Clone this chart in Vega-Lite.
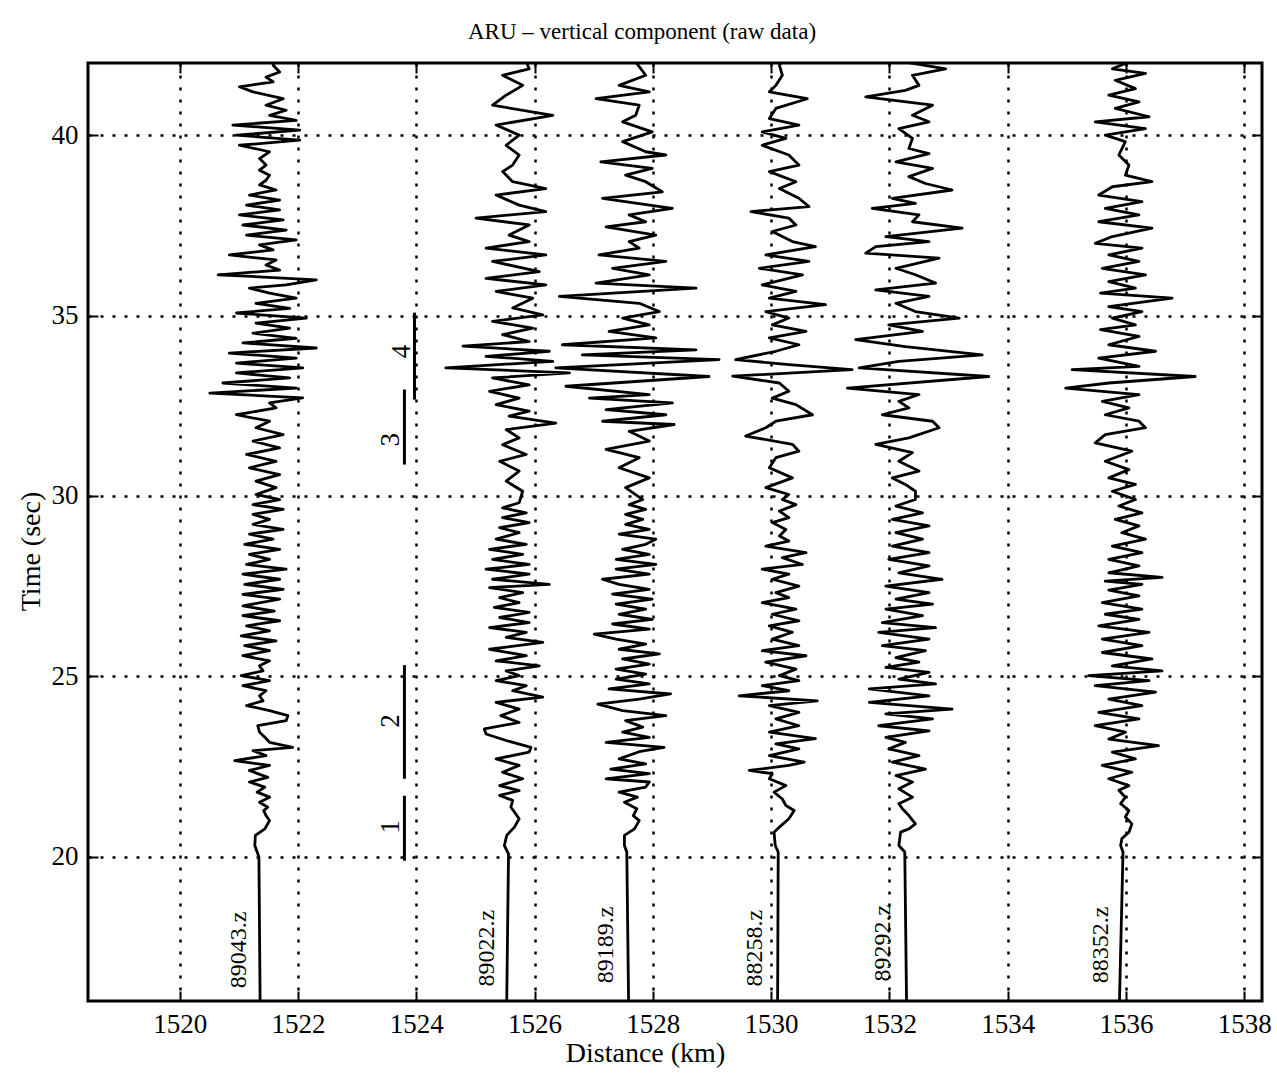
{
"$schema":"https://vega.github.io/schema/vega-lite/v6.json",
"width":1174,"height":938,
"autosize":{"type":"none"},
"padding":{"left":88,"top":63,"right":15,"bottom":77},
"background":"white",
"title":{"text":"ARU – vertical component (raw data)","font":"Liberation Serif","fontSize":23,"fontWeight":"normal","color":"black","anchor":"middle","frame":"group","dx":-33,"offset":18},
"config":{"view":{"stroke":"black","strokeWidth":3},
 "axis":{"labelFont":"Liberation Serif","labelFontSize":27,"labelColor":"black","titleFont":"Liberation Serif","titleFontSize":28,"titleFontWeight":"normal","titleColor":"black","tickColor":"black","tickWidth":2,"domain":false,"gridColor":"black","gridDash":[3,9],"gridWidth":2.5,"gridOpacity":1}},
"datasets":{
"traces":[
{"s":"89043","t":16.0,"x":1521.36},{"s":"89043","t":19.99,"x":1521.34},{"s":"89043","t":20.13,"x":1521.31},{"s":"89043","t":20.31,"x":1521.27},{"s":"89043","t":20.59,"x":1521.28},{"s":"89043","t":20.77,"x":1521.44},{"s":"89043","t":21.0,"x":1521.52},{"s":"89043","t":21.14,"x":1521.46},{"s":"89043","t":21.28,"x":1521.42},{"s":"89043","t":21.37,"x":1521.49},{"s":"89043","t":21.51,"x":1521.35},{"s":"89043","t":21.65,"x":1521.52},{"s":"89043","t":21.79,"x":1521.31},{"s":"89043","t":21.93,"x":1521.44},{"s":"89043","t":22.07,"x":1521.18},{"s":"89043","t":22.2,"x":1521.49},{"s":"89043","t":22.39,"x":1521.18},{"s":"89043","t":22.53,"x":1521.52},{"s":"89043","t":22.66,"x":1520.93},{"s":"89043","t":22.8,"x":1521.46},{"s":"89043","t":22.94,"x":1521.24},{"s":"89043","t":23.03,"x":1521.91},{"s":"89043","t":23.17,"x":1521.52},{"s":"89043","t":23.31,"x":1521.44},{"s":"89043","t":23.45,"x":1521.35},{"s":"89043","t":23.63,"x":1521.32},{"s":"89043","t":23.77,"x":1521.8},{"s":"89043","t":23.91,"x":1521.83},{"s":"89043","t":24.05,"x":1521.52},{"s":"89043","t":24.19,"x":1521.13},{"s":"89043","t":24.32,"x":1521.41},{"s":"89043","t":24.46,"x":1521.35},{"s":"89043","t":24.6,"x":1521.46},{"s":"89043","t":24.74,"x":1521.07},{"s":"89043","t":24.88,"x":1521.52},{"s":"89043","t":25.02,"x":1521.04},{"s":"89043","t":25.15,"x":1521.41},{"s":"89043","t":25.29,"x":1521.35},{"s":"89043","t":25.43,"x":1521.52},{"s":"89043","t":25.57,"x":1521.07},{"s":"89043","t":25.71,"x":1521.52},{"s":"89043","t":25.85,"x":1521.1},{"s":"89043","t":25.98,"x":1521.63},{"s":"89043","t":26.12,"x":1521.04},{"s":"89043","t":26.26,"x":1521.52},{"s":"89043","t":26.4,"x":1521.13},{"s":"89043","t":26.54,"x":1521.69},{"s":"89043","t":26.68,"x":1521.07},{"s":"89043","t":26.81,"x":1521.6},{"s":"89043","t":26.95,"x":1521.07},{"s":"89043","t":27.14,"x":1521.69},{"s":"89043","t":27.27,"x":1521.07},{"s":"89043","t":27.41,"x":1521.75},{"s":"89043","t":27.55,"x":1521.1},{"s":"89043","t":27.69,"x":1521.69},{"s":"89043","t":27.83,"x":1521.07},{"s":"89043","t":27.97,"x":1521.8},{"s":"89043","t":28.1,"x":1521.13},{"s":"89043","t":28.24,"x":1521.52},{"s":"89043","t":28.38,"x":1521.18},{"s":"89043","t":28.52,"x":1521.69},{"s":"89043","t":28.66,"x":1521.1},{"s":"89043","t":28.8,"x":1521.58},{"s":"89043","t":28.94,"x":1521.18},{"s":"89043","t":29.07,"x":1521.75},{"s":"89043","t":29.21,"x":1521.24},{"s":"89043","t":29.35,"x":1521.52},{"s":"89043","t":29.49,"x":1521.24},{"s":"89043","t":29.63,"x":1521.75},{"s":"89043","t":29.76,"x":1521.24},{"s":"89043","t":29.9,"x":1521.69},{"s":"89043","t":30.04,"x":1521.29},{"s":"89043","t":30.23,"x":1521.63},{"s":"89043","t":30.41,"x":1521.29},{"s":"89043","t":30.59,"x":1521.69},{"s":"89043","t":30.78,"x":1521.18},{"s":"89043","t":30.96,"x":1521.63},{"s":"89043","t":31.15,"x":1521.13},{"s":"89043","t":31.33,"x":1521.69},{"s":"89043","t":31.52,"x":1521.24},{"s":"89043","t":31.7,"x":1521.75},{"s":"89043","t":31.89,"x":1521.29},{"s":"89043","t":32.07,"x":1521.52},{"s":"89043","t":32.25,"x":1520.96},{"s":"89043","t":32.44,"x":1521.63},{"s":"89043","t":32.58,"x":1521.52},{"s":"89043","t":32.72,"x":1522.08},{"s":"89043","t":32.85,"x":1520.51},{"s":"89043","t":32.99,"x":1521.97},{"s":"89043","t":33.13,"x":1520.73},{"s":"89043","t":33.27,"x":1521.86},{"s":"89043","t":33.41,"x":1520.96},{"s":"89043","t":33.55,"x":1522.08},{"s":"89043","t":33.68,"x":1520.96},{"s":"89043","t":33.82,"x":1521.97},{"s":"89043","t":33.96,"x":1520.84},{"s":"89043","t":34.1,"x":1522.31},{"s":"89043","t":34.24,"x":1521.07},{"s":"89043","t":34.37,"x":1521.97},{"s":"89043","t":34.51,"x":1521.24},{"s":"89043","t":34.65,"x":1521.86},{"s":"89043","t":34.79,"x":1521.29},{"s":"89043","t":34.93,"x":1522.14},{"s":"89043","t":35.07,"x":1520.96},{"s":"89043","t":35.2,"x":1521.86},{"s":"89043","t":35.34,"x":1521.29},{"s":"89043","t":35.48,"x":1521.97},{"s":"89043","t":35.62,"x":1521.52},{"s":"89043","t":35.76,"x":1521.18},{"s":"89043","t":35.85,"x":1521.8},{"s":"89043","t":35.99,"x":1522.31},{"s":"89043","t":36.13,"x":1520.65},{"s":"89043","t":36.26,"x":1521.69},{"s":"89043","t":36.4,"x":1521.46},{"s":"89043","t":36.54,"x":1521.63},{"s":"89043","t":36.68,"x":1520.84},{"s":"89043","t":36.82,"x":1521.58},{"s":"89043","t":36.96,"x":1521.35},{"s":"89043","t":37.1,"x":1521.97},{"s":"89043","t":37.23,"x":1521.13},{"s":"89043","t":37.37,"x":1521.8},{"s":"89043","t":37.51,"x":1521.07},{"s":"89043","t":37.65,"x":1521.75},{"s":"89043","t":37.79,"x":1521.01},{"s":"89043","t":37.93,"x":1521.69},{"s":"89043","t":38.06,"x":1521.13},{"s":"89043","t":38.2,"x":1521.69},{"s":"89043","t":38.34,"x":1521.18},{"s":"89043","t":38.48,"x":1521.63},{"s":"89043","t":38.62,"x":1521.35},{"s":"89043","t":38.75,"x":1521.46},{"s":"89043","t":38.89,"x":1521.52},{"s":"89043","t":39.03,"x":1521.35},{"s":"89043","t":39.17,"x":1521.46},{"s":"89043","t":39.35,"x":1521.35},{"s":"89043","t":39.54,"x":1521.52},{"s":"89043","t":39.72,"x":1521.01},{"s":"89043","t":39.86,"x":1522.03},{"s":"89043","t":40.0,"x":1520.96},{"s":"89043","t":40.14,"x":1522.03},{"s":"89043","t":40.28,"x":1520.9},{"s":"89043","t":40.41,"x":1521.97},{"s":"89043","t":40.55,"x":1521.52},{"s":"89043","t":40.69,"x":1521.8},{"s":"89043","t":40.83,"x":1521.46},{"s":"89043","t":41.01,"x":1521.75},{"s":"89043","t":41.2,"x":1521.24},{"s":"89043","t":41.34,"x":1521.01},{"s":"89043","t":41.48,"x":1521.58},{"s":"89043","t":41.61,"x":1521.46},{"s":"89043","t":41.75,"x":1521.69},{"s":"89043","t":41.94,"x":1521.58},{"s":"89043","t":42.07,"x":1521.63},{"s":"89043","t":42.17,"x":1521.52},
{"s":"89022","t":16.0,"x":1525.53},{"s":"89022","t":20.08,"x":1525.56},{"s":"89022","t":20.31,"x":1525.49},{"s":"89022","t":20.59,"x":1525.53},{"s":"89022","t":20.82,"x":1525.66},{"s":"89022","t":21.05,"x":1525.74},{"s":"89022","t":21.24,"x":1525.66},{"s":"89022","t":21.37,"x":1525.6},{"s":"89022","t":21.56,"x":1525.63},{"s":"89022","t":21.7,"x":1525.41},{"s":"89022","t":21.83,"x":1525.74},{"s":"89022","t":21.97,"x":1525.41},{"s":"89022","t":22.16,"x":1525.8},{"s":"89022","t":22.34,"x":1525.46},{"s":"89022","t":22.53,"x":1525.74},{"s":"89022","t":22.71,"x":1525.35},{"s":"89022","t":22.9,"x":1525.91},{"s":"89022","t":23.03,"x":1525.94},{"s":"89022","t":23.22,"x":1525.52},{"s":"89022","t":23.4,"x":1525.18},{"s":"89022","t":23.54,"x":1525.15},{"s":"89022","t":23.72,"x":1525.74},{"s":"89022","t":23.91,"x":1525.43},{"s":"89022","t":24.09,"x":1525.74},{"s":"89022","t":24.28,"x":1525.35},{"s":"89022","t":24.42,"x":1526.14},{"s":"89022","t":24.6,"x":1525.63},{"s":"89022","t":24.74,"x":1525.86},{"s":"89022","t":24.88,"x":1525.35},{"s":"89022","t":25.02,"x":1525.74},{"s":"89022","t":25.15,"x":1525.52},{"s":"89022","t":25.29,"x":1526.08},{"s":"89022","t":25.43,"x":1525.35},{"s":"89022","t":25.57,"x":1525.86},{"s":"89022","t":25.75,"x":1525.24},{"s":"89022","t":25.94,"x":1526.14},{"s":"89022","t":26.08,"x":1525.52},{"s":"89022","t":26.22,"x":1525.86},{"s":"89022","t":26.35,"x":1525.24},{"s":"89022","t":26.49,"x":1525.91},{"s":"89022","t":26.63,"x":1525.41},{"s":"89022","t":26.77,"x":1525.91},{"s":"89022","t":26.91,"x":1525.32},{"s":"89022","t":27.04,"x":1525.74},{"s":"89022","t":27.18,"x":1525.41},{"s":"89022","t":27.32,"x":1525.8},{"s":"89022","t":27.46,"x":1525.24},{"s":"89022","t":27.55,"x":1526.25},{"s":"89022","t":27.69,"x":1525.29},{"s":"89022","t":27.83,"x":1525.91},{"s":"89022","t":27.97,"x":1525.18},{"s":"89022","t":28.1,"x":1525.91},{"s":"89022","t":28.24,"x":1525.29},{"s":"89022","t":28.38,"x":1525.8},{"s":"89022","t":28.52,"x":1525.24},{"s":"89022","t":28.66,"x":1525.86},{"s":"89022","t":28.8,"x":1525.35},{"s":"89022","t":28.98,"x":1525.74},{"s":"89022","t":29.12,"x":1525.41},{"s":"89022","t":29.26,"x":1525.91},{"s":"89022","t":29.4,"x":1525.46},{"s":"89022","t":29.53,"x":1525.86},{"s":"89022","t":29.67,"x":1525.46},{"s":"89022","t":29.81,"x":1525.74},{"s":"89022","t":30.13,"x":1525.8},{"s":"89022","t":30.41,"x":1525.52},{"s":"89022","t":30.69,"x":1525.74},{"s":"89022","t":30.96,"x":1525.41},{"s":"89022","t":31.15,"x":1525.86},{"s":"89022","t":31.42,"x":1525.46},{"s":"89022","t":31.61,"x":1525.74},{"s":"89022","t":31.84,"x":1525.52},{"s":"89022","t":32.02,"x":1526.36},{"s":"89022","t":32.21,"x":1525.57},{"s":"89022","t":32.35,"x":1525.91},{"s":"89022","t":32.53,"x":1525.35},{"s":"89022","t":32.71,"x":1525.74},{"s":"89022","t":32.9,"x":1525.24},{"s":"89022","t":33.08,"x":1525.91},{"s":"89022","t":33.27,"x":1525.29},{"s":"89022","t":33.41,"x":1526.59},{"s":"89022","t":33.55,"x":1524.5},{"s":"89022","t":33.73,"x":1526.31},{"s":"89022","t":33.87,"x":1525.18},{"s":"89022","t":34.01,"x":1526.25},{"s":"89022","t":34.15,"x":1524.79},{"s":"89022","t":34.28,"x":1525.91},{"s":"89022","t":34.47,"x":1525.46},{"s":"89022","t":34.65,"x":1525.97},{"s":"89022","t":34.84,"x":1525.29},{"s":"89022","t":35.02,"x":1526.14},{"s":"89022","t":35.21,"x":1525.63},{"s":"89022","t":35.48,"x":1525.97},{"s":"89022","t":35.67,"x":1525.35},{"s":"89022","t":35.85,"x":1526.19},{"s":"89022","t":36.03,"x":1525.18},{"s":"89022","t":36.22,"x":1526.08},{"s":"89022","t":36.5,"x":1525.29},{"s":"89022","t":36.68,"x":1526.19},{"s":"89022","t":36.87,"x":1525.18},{"s":"89022","t":37.05,"x":1525.91},{"s":"89022","t":37.23,"x":1525.57},{"s":"89022","t":37.51,"x":1525.91},{"s":"89022","t":37.7,"x":1525.01},{"s":"89022","t":37.88,"x":1526.19},{"s":"89022","t":38.06,"x":1525.74},{"s":"89022","t":38.34,"x":1525.35},{"s":"89022","t":38.52,"x":1526.19},{"s":"89022","t":38.71,"x":1525.63},{"s":"89022","t":38.99,"x":1525.46},{"s":"89022","t":39.17,"x":1525.63},{"s":"89022","t":39.45,"x":1525.74},{"s":"89022","t":39.72,"x":1525.52},{"s":"89022","t":40.0,"x":1525.74},{"s":"89022","t":40.28,"x":1525.35},{"s":"89022","t":40.55,"x":1526.31},{"s":"89022","t":40.83,"x":1525.29},{"s":"89022","t":41.11,"x":1525.52},{"s":"89022","t":41.38,"x":1525.8},{"s":"89022","t":41.66,"x":1525.46},{"s":"89022","t":41.84,"x":1525.91},{"s":"89022","t":42.03,"x":1525.86},
{"s":"89189","t":16.0,"x":1527.59},{"s":"89189","t":20.13,"x":1527.56},{"s":"89189","t":20.31,"x":1527.52},{"s":"89189","t":20.59,"x":1527.52},{"s":"89189","t":20.77,"x":1527.69},{"s":"89189","t":21.0,"x":1527.77},{"s":"89189","t":21.14,"x":1527.67},{"s":"89189","t":21.33,"x":1527.73},{"s":"89189","t":21.51,"x":1527.52},{"s":"89189","t":21.65,"x":1527.74},{"s":"89189","t":21.79,"x":1527.43},{"s":"89189","t":21.93,"x":1527.88},{"s":"89189","t":22.07,"x":1527.94},{"s":"89189","t":22.16,"x":1527.21},{"s":"89189","t":22.3,"x":1527.94},{"s":"89189","t":22.43,"x":1527.29},{"s":"89189","t":22.57,"x":1527.88},{"s":"89189","t":22.71,"x":1527.43},{"s":"89189","t":22.91,"x":1527.77},{"s":"89189","t":23.03,"x":1528.19},{"s":"89189","t":23.17,"x":1527.21},{"s":"89189","t":23.31,"x":1527.94},{"s":"89189","t":23.45,"x":1527.49},{"s":"89189","t":23.59,"x":1527.83},{"s":"89189","t":23.77,"x":1527.54},{"s":"89189","t":23.91,"x":1528.22},{"s":"89189","t":24.05,"x":1527.49},{"s":"89189","t":24.23,"x":1527.07},{"s":"89189","t":24.37,"x":1527.77},{"s":"89189","t":24.51,"x":1528.3},{"s":"89189","t":24.65,"x":1527.26},{"s":"89189","t":24.79,"x":1527.94},{"s":"89189","t":24.92,"x":1527.38},{"s":"89189","t":25.06,"x":1527.88},{"s":"89189","t":25.2,"x":1527.38},{"s":"89189","t":25.34,"x":1527.94},{"s":"89189","t":25.48,"x":1527.49},{"s":"89189","t":25.62,"x":1528.11},{"s":"89189","t":25.75,"x":1527.43},{"s":"89189","t":25.89,"x":1527.88},{"s":"89189","t":26.03,"x":1527.38},{"s":"89189","t":26.17,"x":1527.01},{"s":"89189","t":26.31,"x":1527.94},{"s":"89189","t":26.45,"x":1527.32},{"s":"89189","t":26.58,"x":1527.99},{"s":"89189","t":26.72,"x":1527.43},{"s":"89189","t":26.86,"x":1527.88},{"s":"89189","t":27.0,"x":1527.38},{"s":"89189","t":27.14,"x":1527.99},{"s":"89189","t":27.28,"x":1527.32},{"s":"89189","t":27.41,"x":1527.94},{"s":"89189","t":27.55,"x":1527.43},{"s":"89189","t":27.69,"x":1527.15},{"s":"89189","t":27.83,"x":1527.94},{"s":"89189","t":27.97,"x":1527.38},{"s":"89189","t":28.1,"x":1528.05},{"s":"89189","t":28.24,"x":1527.38},{"s":"89189","t":28.38,"x":1527.94},{"s":"89189","t":28.52,"x":1527.49},{"s":"89189","t":28.66,"x":1527.88},{"s":"89189","t":28.8,"x":1528.05},{"s":"89189","t":28.94,"x":1527.43},{"s":"89189","t":29.07,"x":1527.94},{"s":"89189","t":29.21,"x":1527.54},{"s":"89189","t":29.35,"x":1527.83},{"s":"89189","t":29.49,"x":1527.54},{"s":"89189","t":29.63,"x":1527.88},{"s":"89189","t":29.76,"x":1527.6},{"s":"89189","t":29.9,"x":1527.83},{"s":"89189","t":30.23,"x":1527.54},{"s":"89189","t":30.5,"x":1527.94},{"s":"89189","t":30.78,"x":1527.43},{"s":"89189","t":31.06,"x":1527.77},{"s":"89189","t":31.29,"x":1527.21},{"s":"89189","t":31.52,"x":1527.94},{"s":"89189","t":31.79,"x":1527.6},{"s":"89189","t":31.98,"x":1528.36},{"s":"89189","t":32.07,"x":1527.15},{"s":"89189","t":32.25,"x":1528.22},{"s":"89189","t":32.39,"x":1527.21},{"s":"89189","t":32.58,"x":1528.33},{"s":"89189","t":32.71,"x":1526.93},{"s":"89189","t":32.81,"x":1527.94},{"s":"89189","t":33.04,"x":1526.53},{"s":"89189","t":33.31,"x":1528.95},{"s":"89189","t":33.55,"x":1526.36},{"s":"89189","t":33.78,"x":1529.12},{"s":"89189","t":33.91,"x":1526.81},{"s":"89189","t":34.05,"x":1528.73},{"s":"89189","t":34.19,"x":1526.47},{"s":"89189","t":34.38,"x":1528.05},{"s":"89189","t":34.56,"x":1527.26},{"s":"89189","t":34.74,"x":1527.94},{"s":"89189","t":34.93,"x":1527.49},{"s":"89189","t":35.11,"x":1528.11},{"s":"89189","t":35.34,"x":1527.77},{"s":"89189","t":35.53,"x":1526.42},{"s":"89189","t":35.76,"x":1528.73},{"s":"89189","t":35.9,"x":1527.04},{"s":"89189","t":36.13,"x":1527.94},{"s":"89189","t":36.31,"x":1527.32},{"s":"89189","t":36.5,"x":1528.22},{"s":"89189","t":36.68,"x":1527.09},{"s":"89189","t":36.87,"x":1527.77},{"s":"89189","t":37.05,"x":1527.6},{"s":"89189","t":37.23,"x":1528.05},{"s":"89189","t":37.46,"x":1527.21},{"s":"89189","t":37.6,"x":1527.88},{"s":"89189","t":37.79,"x":1527.6},{"s":"89189","t":37.97,"x":1528.33},{"s":"89189","t":38.25,"x":1527.15},{"s":"89189","t":38.43,"x":1528.16},{"s":"89189","t":38.71,"x":1527.88},{"s":"89189","t":38.89,"x":1527.54},{"s":"89189","t":39.08,"x":1527.99},{"s":"89189","t":39.26,"x":1527.12},{"s":"89189","t":39.45,"x":1528.22},{"s":"89189","t":39.54,"x":1527.88},{"s":"89189","t":39.82,"x":1527.49},{"s":"89189","t":40.09,"x":1527.99},{"s":"89189","t":40.37,"x":1527.49},{"s":"89189","t":40.55,"x":1527.71},{"s":"89189","t":40.83,"x":1527.77},{"s":"89189","t":41.01,"x":1527.04},{"s":"89189","t":41.2,"x":1527.94},{"s":"89189","t":41.38,"x":1527.43},{"s":"89189","t":41.66,"x":1527.88},{"s":"89189","t":42.03,"x":1527.71},
{"s":"88258","t":16.0,"x":1530.11},{"s":"88258","t":20.13,"x":1530.12},{"s":"88258","t":20.31,"x":1530.07},{"s":"88258","t":20.68,"x":1530.05},{"s":"88258","t":20.82,"x":1530.14},{"s":"88258","t":21.05,"x":1530.3},{"s":"88258","t":21.28,"x":1530.39},{"s":"88258","t":21.42,"x":1530.25},{"s":"88258","t":21.6,"x":1530.19},{"s":"88258","t":21.79,"x":1530.05},{"s":"88258","t":21.97,"x":1530.25},{"s":"88258","t":22.16,"x":1529.97},{"s":"88258","t":22.3,"x":1530.02},{"s":"88258","t":22.39,"x":1529.63},{"s":"88258","t":22.53,"x":1530.3},{"s":"88258","t":22.62,"x":1530.56},{"s":"88258","t":22.8,"x":1529.97},{"s":"88258","t":22.99,"x":1530.47},{"s":"88258","t":23.13,"x":1530.08},{"s":"88258","t":23.27,"x":1530.75},{"s":"88258","t":23.45,"x":1529.97},{"s":"88258","t":23.63,"x":1530.47},{"s":"88258","t":23.82,"x":1530.08},{"s":"88258","t":24.0,"x":1530.47},{"s":"88258","t":24.19,"x":1529.97},{"s":"88258","t":24.32,"x":1530.78},{"s":"88258","t":24.46,"x":1529.46},{"s":"88258","t":24.6,"x":1530.3},{"s":"88258","t":24.74,"x":1529.85},{"s":"88258","t":24.88,"x":1530.47},{"s":"88258","t":25.02,"x":1530.14},{"s":"88258","t":25.2,"x":1530.42},{"s":"88258","t":25.39,"x":1529.91},{"s":"88258","t":25.57,"x":1530.59},{"s":"88258","t":25.71,"x":1529.85},{"s":"88258","t":25.85,"x":1530.47},{"s":"88258","t":26.03,"x":1530.02},{"s":"88258","t":26.22,"x":1530.36},{"s":"88258","t":26.4,"x":1529.97},{"s":"88258","t":26.54,"x":1530.47},{"s":"88258","t":26.72,"x":1530.02},{"s":"88258","t":26.86,"x":1530.42},{"s":"88258","t":27.04,"x":1529.85},{"s":"88258","t":27.18,"x":1530.3},{"s":"88258","t":27.32,"x":1530.08},{"s":"88258","t":27.5,"x":1530.47},{"s":"88258","t":27.69,"x":1530.02},{"s":"88258","t":27.83,"x":1530.3},{"s":"88258","t":27.97,"x":1529.85},{"s":"88258","t":28.1,"x":1530.53},{"s":"88258","t":28.29,"x":1530.19},{"s":"88258","t":28.43,"x":1530.59},{"s":"88258","t":28.61,"x":1529.91},{"s":"88258","t":28.75,"x":1530.3},{"s":"88258","t":28.89,"x":1530.14},{"s":"88258","t":29.07,"x":1530.25},{"s":"88258","t":29.26,"x":1530.02},{"s":"88258","t":29.4,"x":1530.3},{"s":"88258","t":29.58,"x":1530.14},{"s":"88258","t":29.76,"x":1530.42},{"s":"88258","t":29.9,"x":1530.19},{"s":"88258","t":30.04,"x":1530.3},{"s":"88258","t":30.23,"x":1529.91},{"s":"88258","t":30.5,"x":1530.36},{"s":"88258","t":30.78,"x":1529.97},{"s":"88258","t":31.06,"x":1530.08},{"s":"88258","t":31.24,"x":1530.47},{"s":"88258","t":31.43,"x":1530.36},{"s":"88258","t":31.66,"x":1529.57},{"s":"88258","t":31.89,"x":1529.91},{"s":"88258","t":32.07,"x":1530.08},{"s":"88258","t":32.25,"x":1530.7},{"s":"88258","t":32.53,"x":1530.42},{"s":"88258","t":32.71,"x":1530.02},{"s":"88258","t":32.9,"x":1530.3},{"s":"88258","t":33.13,"x":1530.14},{"s":"88258","t":33.32,"x":1529.35},{"s":"88258","t":33.5,"x":1531.37},{"s":"88258","t":33.64,"x":1530.3},{"s":"88258","t":33.78,"x":1529.4},{"s":"88258","t":34.01,"x":1530.08},{"s":"88258","t":34.19,"x":1530.47},{"s":"88258","t":34.38,"x":1529.97},{"s":"88258","t":34.56,"x":1530.59},{"s":"88258","t":34.74,"x":1530.02},{"s":"88258","t":34.93,"x":1530.3},{"s":"88258","t":35.11,"x":1529.91},{"s":"88258","t":35.3,"x":1530.92},{"s":"88258","t":35.48,"x":1529.97},{"s":"88258","t":35.67,"x":1530.42},{"s":"88258","t":35.85,"x":1529.85},{"s":"88258","t":36.13,"x":1530.53},{"s":"88258","t":36.31,"x":1529.8},{"s":"88258","t":36.5,"x":1530.64},{"s":"88258","t":36.68,"x":1529.91},{"s":"88258","t":36.91,"x":1530.75},{"s":"88258","t":37.05,"x":1530.36},{"s":"88258","t":37.33,"x":1530.02},{"s":"88258","t":37.51,"x":1530.42},{"s":"88258","t":37.7,"x":1530.3},{"s":"88258","t":37.88,"x":1529.66},{"s":"88258","t":38.02,"x":1530.64},{"s":"88258","t":38.25,"x":1530.47},{"s":"88258","t":38.52,"x":1530.14},{"s":"88258","t":38.71,"x":1530.42},{"s":"88258","t":38.99,"x":1529.97},{"s":"88258","t":39.17,"x":1530.47},{"s":"88258","t":39.45,"x":1530.3},{"s":"88258","t":39.72,"x":1529.85},{"s":"88258","t":39.91,"x":1530.25},{"s":"88258","t":40.09,"x":1529.85},{"s":"88258","t":40.28,"x":1530.47},{"s":"88258","t":40.46,"x":1529.97},{"s":"88258","t":40.74,"x":1530.08},{"s":"88258","t":41.01,"x":1530.61},{"s":"88258","t":41.2,"x":1529.97},{"s":"88258","t":41.38,"x":1530.08},{"s":"88258","t":41.66,"x":1530.19},{"s":"88258","t":41.94,"x":1530.14},{"s":"88258","t":42.1,"x":1530.2},
{"s":"89292","t":16.0,"x":1532.29},{"s":"89292","t":20.13,"x":1532.26},{"s":"89292","t":20.31,"x":1532.16},{"s":"89292","t":20.68,"x":1532.19},{"s":"89292","t":20.77,"x":1532.33},{"s":"89292","t":20.91,"x":1532.44},{"s":"89292","t":21.14,"x":1532.33},{"s":"89292","t":21.33,"x":1532.22},{"s":"89292","t":21.47,"x":1532.16},{"s":"89292","t":21.65,"x":1532.39},{"s":"89292","t":21.88,"x":1532.16},{"s":"89292","t":22.07,"x":1532.39},{"s":"89292","t":22.25,"x":1532.11},{"s":"89292","t":22.43,"x":1532.61},{"s":"89292","t":22.62,"x":1532.05},{"s":"89292","t":22.8,"x":1532.5},{"s":"89292","t":22.99,"x":1531.99},{"s":"89292","t":23.17,"x":1532.27},{"s":"89292","t":23.31,"x":1531.94},{"s":"89292","t":23.49,"x":1532.67},{"s":"89292","t":23.63,"x":1531.82},{"s":"89292","t":23.82,"x":1532.73},{"s":"89292","t":23.96,"x":1531.94},{"s":"89292","t":24.09,"x":1533.06},{"s":"89292","t":24.28,"x":1531.66},{"s":"89292","t":24.46,"x":1532.67},{"s":"89292","t":24.65,"x":1531.66},{"s":"89292","t":24.79,"x":1532.78},{"s":"89292","t":24.92,"x":1532.16},{"s":"89292","t":25.11,"x":1532.67},{"s":"89292","t":25.25,"x":1531.94},{"s":"89292","t":25.39,"x":1532.5},{"s":"89292","t":25.52,"x":1532.11},{"s":"89292","t":25.71,"x":1532.61},{"s":"89292","t":25.85,"x":1531.88},{"s":"89292","t":26.03,"x":1532.67},{"s":"89292","t":26.22,"x":1531.82},{"s":"89292","t":26.35,"x":1532.78},{"s":"89292","t":26.49,"x":1531.88},{"s":"89292","t":26.68,"x":1532.56},{"s":"89292","t":26.86,"x":1531.94},{"s":"89292","t":27.0,"x":1532.73},{"s":"89292","t":27.14,"x":1532.11},{"s":"89292","t":27.32,"x":1532.67},{"s":"89292","t":27.5,"x":1531.94},{"s":"89292","t":27.69,"x":1532.89},{"s":"89292","t":27.87,"x":1532.16},{"s":"89292","t":28.06,"x":1532.67},{"s":"89292","t":28.24,"x":1531.99},{"s":"89292","t":28.43,"x":1532.67},{"s":"89292","t":28.61,"x":1532.05},{"s":"89292","t":28.8,"x":1532.56},{"s":"89292","t":28.98,"x":1532.11},{"s":"89292","t":29.17,"x":1532.67},{"s":"89292","t":29.35,"x":1532.05},{"s":"89292","t":29.53,"x":1532.56},{"s":"89292","t":29.72,"x":1532.11},{"s":"89292","t":29.9,"x":1532.44},{"s":"89292","t":30.13,"x":1532.44},{"s":"89292","t":30.32,"x":1532.27},{"s":"89292","t":30.5,"x":1532.05},{"s":"89292","t":30.69,"x":1532.5},{"s":"89292","t":30.96,"x":1532.16},{"s":"89292","t":31.2,"x":1532.39},{"s":"89292","t":31.43,"x":1531.77},{"s":"89292","t":31.61,"x":1532.33},{"s":"89292","t":31.89,"x":1532.84},{"s":"89292","t":32.07,"x":1532.73},{"s":"89292","t":32.25,"x":1531.88},{"s":"89292","t":32.44,"x":1532.33},{"s":"89292","t":32.62,"x":1532.16},{"s":"89292","t":32.81,"x":1532.5},{"s":"89292","t":32.99,"x":1531.29},{"s":"89292","t":33.31,"x":1533.68},{"s":"89292","t":33.55,"x":1531.49},{"s":"89292","t":33.73,"x":1532.16},{"s":"89292","t":33.91,"x":1533.57},{"s":"89292","t":34.14,"x":1532.27},{"s":"89292","t":34.33,"x":1531.43},{"s":"89292","t":34.56,"x":1532.56},{"s":"89292","t":34.74,"x":1531.99},{"s":"89292","t":34.93,"x":1533.18},{"s":"89292","t":35.11,"x":1532.44},{"s":"89292","t":35.34,"x":1532.11},{"s":"89292","t":35.53,"x":1532.67},{"s":"89292","t":35.71,"x":1531.77},{"s":"89292","t":35.9,"x":1532.78},{"s":"89292","t":36.13,"x":1532.44},{"s":"89292","t":36.31,"x":1532.11},{"s":"89292","t":36.59,"x":1532.84},{"s":"89292","t":36.73,"x":1531.6},{"s":"89292","t":36.91,"x":1531.77},{"s":"89292","t":37.05,"x":1532.67},{"s":"89292","t":37.19,"x":1531.94},{"s":"89292","t":37.42,"x":1533.23},{"s":"89292","t":37.6,"x":1532.39},{"s":"89292","t":37.79,"x":1532.5},{"s":"89292","t":37.97,"x":1531.71},{"s":"89292","t":38.11,"x":1532.44},{"s":"89292","t":38.25,"x":1532.05},{"s":"89292","t":38.48,"x":1533.06},{"s":"89292","t":38.66,"x":1532.61},{"s":"89292","t":38.85,"x":1532.33},{"s":"89292","t":39.08,"x":1532.73},{"s":"89292","t":39.26,"x":1532.11},{"s":"89292","t":39.49,"x":1532.67},{"s":"89292","t":39.63,"x":1532.33},{"s":"89292","t":39.91,"x":1532.39},{"s":"89292","t":40.18,"x":1532.16},{"s":"89292","t":40.37,"x":1532.67},{"s":"89292","t":40.55,"x":1532.39},{"s":"89292","t":40.83,"x":1532.73},{"s":"89292","t":41.06,"x":1531.6},{"s":"89292","t":41.24,"x":1532.27},{"s":"89292","t":41.38,"x":1532.5},{"s":"89292","t":41.66,"x":1532.39},{"s":"89292","t":41.84,"x":1532.95},{"s":"89292","t":42.07,"x":1532.11},
{"s":"88352","t":16.0,"x":1535.89},{"s":"88352","t":20.13,"x":1535.95},{"s":"88352","t":20.31,"x":1535.91},{"s":"88352","t":20.5,"x":1535.93},{"s":"88352","t":20.68,"x":1536.05},{"s":"88352","t":20.91,"x":1536.1},{"s":"88352","t":21.1,"x":1535.99},{"s":"88352","t":21.28,"x":1536.05},{"s":"88352","t":21.47,"x":1535.91},{"s":"88352","t":21.65,"x":1535.99},{"s":"88352","t":21.84,"x":1535.88},{"s":"88352","t":21.97,"x":1536.05},{"s":"88352","t":22.16,"x":1535.71},{"s":"88352","t":22.34,"x":1536.1},{"s":"88352","t":22.53,"x":1535.6},{"s":"88352","t":22.71,"x":1536.16},{"s":"88352","t":22.9,"x":1535.77},{"s":"88352","t":23.08,"x":1536.55},{"s":"88352","t":23.26,"x":1535.71},{"s":"88352","t":23.45,"x":1535.99},{"s":"88352","t":23.63,"x":1535.48},{"s":"88352","t":23.82,"x":1536.22},{"s":"88352","t":24.0,"x":1535.54},{"s":"88352","t":24.19,"x":1536.27},{"s":"88352","t":24.37,"x":1535.71},{"s":"88352","t":24.56,"x":1536.5},{"s":"88352","t":24.74,"x":1535.48},{"s":"88352","t":24.88,"x":1536.39},{"s":"88352","t":25.02,"x":1535.37},{"s":"88352","t":25.15,"x":1536.61},{"s":"88352","t":25.29,"x":1535.77},{"s":"88352","t":25.48,"x":1536.44},{"s":"88352","t":25.66,"x":1535.6},{"s":"88352","t":25.85,"x":1536.27},{"s":"88352","t":26.03,"x":1535.6},{"s":"88352","t":26.22,"x":1536.39},{"s":"88352","t":26.4,"x":1535.54},{"s":"88352","t":26.58,"x":1536.22},{"s":"88352","t":26.72,"x":1535.65},{"s":"88352","t":26.86,"x":1536.27},{"s":"88352","t":27.04,"x":1535.6},{"s":"88352","t":27.23,"x":1536.22},{"s":"88352","t":27.39,"x":1535.71},{"s":"88352","t":27.55,"x":1536.27},{"s":"88352","t":27.64,"x":1535.65},{"s":"88352","t":27.74,"x":1536.61},{"s":"88352","t":27.87,"x":1535.71},{"s":"88352","t":28.06,"x":1536.22},{"s":"88352","t":28.24,"x":1535.71},{"s":"88352","t":28.43,"x":1536.27},{"s":"88352","t":28.61,"x":1535.77},{"s":"88352","t":28.8,"x":1536.33},{"s":"88352","t":28.98,"x":1535.93},{"s":"88352","t":29.17,"x":1536.22},{"s":"88352","t":29.35,"x":1535.82},{"s":"88352","t":29.53,"x":1536.27},{"s":"88352","t":29.72,"x":1535.88},{"s":"88352","t":29.9,"x":1536.16},{"s":"88352","t":30.13,"x":1535.77},{"s":"88352","t":30.32,"x":1536.16},{"s":"88352","t":30.5,"x":1535.71},{"s":"88352","t":30.73,"x":1536.05},{"s":"88352","t":30.96,"x":1535.65},{"s":"88352","t":31.24,"x":1536.1},{"s":"88352","t":31.47,"x":1535.48},{"s":"88352","t":31.7,"x":1535.65},{"s":"88352","t":31.89,"x":1536.33},{"s":"88352","t":32.07,"x":1536.22},{"s":"88352","t":32.25,"x":1535.65},{"s":"88352","t":32.44,"x":1536.05},{"s":"88352","t":32.62,"x":1535.6},{"s":"88352","t":32.81,"x":1536.22},{"s":"88352","t":32.99,"x":1534.98},{"s":"88352","t":33.13,"x":1535.71},{"s":"88352","t":33.31,"x":1537.17},{"s":"88352","t":33.5,"x":1535.09},{"s":"88352","t":33.59,"x":1536.22},{"s":"88352","t":33.82,"x":1535.54},{"s":"88352","t":34.01,"x":1536.5},{"s":"88352","t":34.19,"x":1535.71},{"s":"88352","t":34.42,"x":1536.22},{"s":"88352","t":34.61,"x":1535.57},{"s":"88352","t":34.74,"x":1536.16},{"s":"88352","t":34.93,"x":1535.77},{"s":"88352","t":35.11,"x":1536.27},{"s":"88352","t":35.25,"x":1535.71},{"s":"88352","t":35.48,"x":1536.78},{"s":"88352","t":35.62,"x":1535.57},{"s":"88352","t":35.76,"x":1536.16},{"s":"88352","t":35.94,"x":1535.71},{"s":"88352","t":36.13,"x":1536.33},{"s":"88352","t":36.31,"x":1535.6},{"s":"88352","t":36.5,"x":1536.22},{"s":"88352","t":36.68,"x":1535.71},{"s":"88352","t":36.87,"x":1536.27},{"s":"88352","t":37.0,"x":1535.48},{"s":"88352","t":37.19,"x":1535.77},{"s":"88352","t":37.42,"x":1536.44},{"s":"88352","t":37.6,"x":1535.54},{"s":"88352","t":37.79,"x":1536.22},{"s":"88352","t":37.97,"x":1535.65},{"s":"88352","t":38.16,"x":1536.27},{"s":"88352","t":38.34,"x":1535.54},{"s":"88352","t":38.57,"x":1535.77},{"s":"88352","t":38.71,"x":1536.44},{"s":"88352","t":38.89,"x":1535.99},{"s":"88352","t":39.17,"x":1536.05},{"s":"88352","t":39.45,"x":1535.88},{"s":"88352","t":39.82,"x":1535.99},{"s":"88352","t":40.0,"x":1535.65},{"s":"88352","t":40.18,"x":1536.33},{"s":"88352","t":40.37,"x":1535.48},{"s":"88352","t":40.51,"x":1536.39},{"s":"88352","t":40.74,"x":1535.82},{"s":"88352","t":40.92,"x":1536.22},{"s":"88352","t":41.11,"x":1535.71},{"s":"88352","t":41.29,"x":1536.16},{"s":"88352","t":41.52,"x":1535.82},{"s":"88352","t":41.71,"x":1536.33},{"s":"88352","t":41.84,"x":1535.77},{"s":"88352","t":42.03,"x":1536.05}
],
"bars":[{"x":1523.8,"t1":19.89,"t2":21.69},{"x":1523.8,"t1":22.16,"t2":25.31},{"x":1523.8,"t1":30.87,"t2":32.95},{"x":1523.97,"t1":32.67,"t2":35.08}],
"nums":[{"x":1523.58,"t":20.83,"n":"1"},{"x":1523.58,"t":23.76,"n":"2"},{"x":1523.58,"t":31.56,"n":"3"},{"x":1523.76,"t":34.0,"n":"4"}],
"labels":[{"x":1521.01,"t":16.35,"lab":"89043.z"},{"x":1525.19,"t":16.4,"lab":"89022.z"},{"x":1527.21,"t":16.49,"lab":"89189.z"},{"x":1529.73,"t":16.4,"lab":"88258.z"},{"x":1531.89,"t":16.54,"lab":"89292.z"},{"x":1535.57,"t":16.49,"lab":"88352.z"}]
},
"layer":[
{"data":{"name":"traces"},
 "mark":{"type":"line","color":"black","strokeWidth":2.8,"strokeJoin":"round","clip":true},
 "encoding":{
  "x":{"field":"x","type":"quantitative","scale":{"domain":[1518.45,1538.3],"nice":false,"zero":false},
       "axis":{"orient":"bottom","values":[1520,1522,1524,1526,1528,1530,1532,1534,1536,1538],"format":"d","title":"Distance (km)","titleFontSize":28,"titleX":557,"grid":true,"ticks":false,"labelPadding":10,"titlePadding":2}},
  "y":{"field":"t","type":"quantitative","scale":{"domain":[16,42],"nice":false,"zero":false},
       "axis":{"orient":"left","values":[20,25,30,35,40],"format":"d","title":"Time (sec)","titleY":488,"grid":true,"ticks":false,"labelPadding":10,"titlePadding":6}},
  "detail":{"field":"s","type":"nominal"},
  "order":{"field":"t","type":"quantitative"}}},
{"data":{"name":"bars"},
 "mark":{"type":"rule","color":"black","strokeWidth":3},
 "encoding":{
  "x":{"field":"x","type":"quantitative","scale":{"domain":[1518.45,1538.3],"nice":false,"zero":false},
       "axis":{"orient":"top","values":[1520,1522,1524,1526,1528,1530,1532,1534,1536,1538],"labels":false,"title":null,"grid":false,"ticks":true,"tickSize":-10}},
  "y":{"field":"t1","type":"quantitative","scale":{"domain":[16,42],"nice":false,"zero":false},
       "axis":{"orient":"right","values":[20,25,30,35,40],"labels":false,"title":null,"grid":false,"ticks":true,"tickSize":-10}},
  "y2":{"field":"t2"}}},
{"data":{"name":"nums"},
 "mark":{"type":"text","font":"Liberation Serif","fontSize":27,"color":"black","angle":270,"align":"center","baseline":"middle"},
 "encoding":{
  "x":{"field":"x","type":"quantitative","scale":{"domain":[1518.45,1538.3],"nice":false,"zero":false},
       "axis":{"orient":"bottom","values":[1520,1522,1524,1526,1528,1530,1532,1534,1536,1538],"labels":false,"title":null,"grid":false,"ticks":true,"tickSize":-10}},
  "y":{"field":"t","type":"quantitative","scale":{"domain":[16,42],"nice":false,"zero":false},
       "axis":{"orient":"left","values":[20,25,30,35,40],"labels":false,"title":null,"grid":false,"ticks":true,"tickSize":-10}},
  "text":{"field":"n"}}},
{"data":{"name":"labels"},
 "mark":{"type":"text","font":"Liberation Serif","fontSize":24,"color":"black","angle":270,"align":"left","baseline":"middle"},
 "encoding":{
  "x":{"field":"x","type":"quantitative","scale":{"domain":[1518.45,1538.3],"nice":false,"zero":false},"axis":null},
  "y":{"field":"t","type":"quantitative","scale":{"domain":[16,42],"nice":false,"zero":false},"axis":null},
  "text":{"field":"lab"}}}
],
"resolve":{"axis":{"x":"independent","y":"independent"}}
}
